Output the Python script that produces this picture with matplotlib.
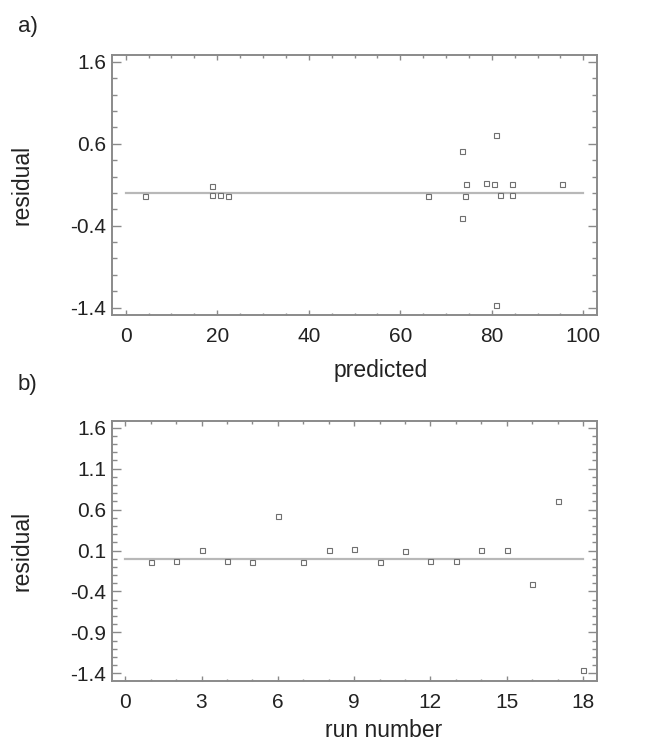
import matplotlib
matplotlib.use("Agg")
import matplotlib.pyplot as plt
from matplotlib.ticker import MultipleLocator, FixedLocator

plt.rcParams['font.family'] = ['Liberation Sans', 'DejaVu Sans']
plt.rcParams['axes.unicode_minus'] = False

# Data
run_number = list(range(1, 19))
predicted = [4.3, 18.9, 74.3, 20.7, 22.4, 73.4, 66.1, 80.4, 78.8,
             74.2, 18.9, 81.7, 84.5, 84.5, 95.4, 73.4, 80.9, 80.9]
residual = [-0.036, -0.028, 0.106, -0.028, -0.036, 0.517, -0.036, 0.106, 0.123,
            -0.036, 0.09, -0.028, -0.028, 0.106, 0.106, -0.305, 0.705, -1.363]

a_xticks = [0, 20, 40, 60, 80, 100]
a_yticks = [-1.4, -0.4, 0.6, 1.6]
b_xticks = [0, 3, 6, 9, 12, 15, 18]
b_yticks = [-1.4, -0.9, -0.4, 0.1, 0.6, 1.1, 1.6]

W, H = 659, 745
fig = plt.figure(figsize=(W / 100, H / 100), dpi=100)

frame_c = '#8a8a8a'
line_c = '#b8b8b8'
mark_c = '#707070'
text_c = '#222222'


def style(ax, xlim, ylim, xt, yt, xminor, yminor):
    ax.set_xlim(*xlim)
    ax.set_ylim(*ylim)
    ax.xaxis.set_major_locator(FixedLocator(xt))
    ax.yaxis.set_major_locator(FixedLocator(yt))
    ax.xaxis.set_minor_locator(MultipleLocator(xminor))
    ax.yaxis.set_minor_locator(MultipleLocator(yminor))
    ax.set_xticklabels([f"{v:g}" for v in xt])
    ax.set_yticklabels([f"{v:g}" for v in yt])
    for s in ax.spines.values():
        s.set_color(frame_c)
        s.set_linewidth(1.4)
    ax.tick_params(axis='both', which='both', direction='in', top=True, right=True,
                   color=frame_c, width=1.0, labelcolor=text_c, labelsize=15)
    ax.tick_params(axis='x', which='major', length=3.6, pad=8.5)
    ax.tick_params(axis='x', which='minor', length=1.8)
    ax.tick_params(axis='y', which='major', length=6.5, pad=4)
    ax.tick_params(axis='y', which='minor', length=3.6)


# Panel a
axa = fig.add_axes([112 / W, 1 - 315 / H, 485 / W, 260 / H])
axa.plot([0, 100], [0, 0], color=line_c, lw=1.6, zorder=1)
axa.plot(predicted, residual, ls='none', marker='s', ms=3.6, mfc='white',
         mec=mark_c, mew=0.8, zorder=2)
style(axa, (-3.0, 103.0), (-1.49, 1.685), a_xticks, a_yticks, 5, 0.2)
axa.set_xlabel('predicted', fontsize=16.5, color=text_c, va='baseline')
axa.xaxis.set_label_coords(0.553, -0.237)
axa.set_ylabel('residual', fontsize=16.5, color=text_c, va='center')
axa.yaxis.set_label_coords((22 - 112) / 485, 0.5)

# Panel b
axb = fig.add_axes([112 / W, 1 - 681 / H, 485 / W, 260.3 / H])
axb.plot([0, 18], [0, 0], color=line_c, lw=1.6, zorder=1)
axb.plot(run_number, residual, ls='none', marker='s', ms=3.6, mfc='white',
         mec=mark_c, mew=0.8, zorder=2)
style(axb, (-0.52, 18.55), (-1.493, 1.685), b_xticks, b_yticks, 1, 0.1)
axb.set_xlabel('run number', fontsize=16.5, color=text_c, va='baseline')
axb.xaxis.set_label_coords(0.56, -0.215)
axb.set_ylabel('residual', fontsize=16.5, color=text_c, va='center')
axb.yaxis.set_label_coords((22 - 112) / 485, 0.5)

fig.text(18 / W, 1 - 32 / H, 'a)', fontsize=16, color=text_c, va='baseline', ha='left')
fig.text(18 / W, 1 - 390 / H, 'b)', fontsize=16, color=text_c, va='baseline', ha='left')

fig.savefig('out.png', dpi=100)
